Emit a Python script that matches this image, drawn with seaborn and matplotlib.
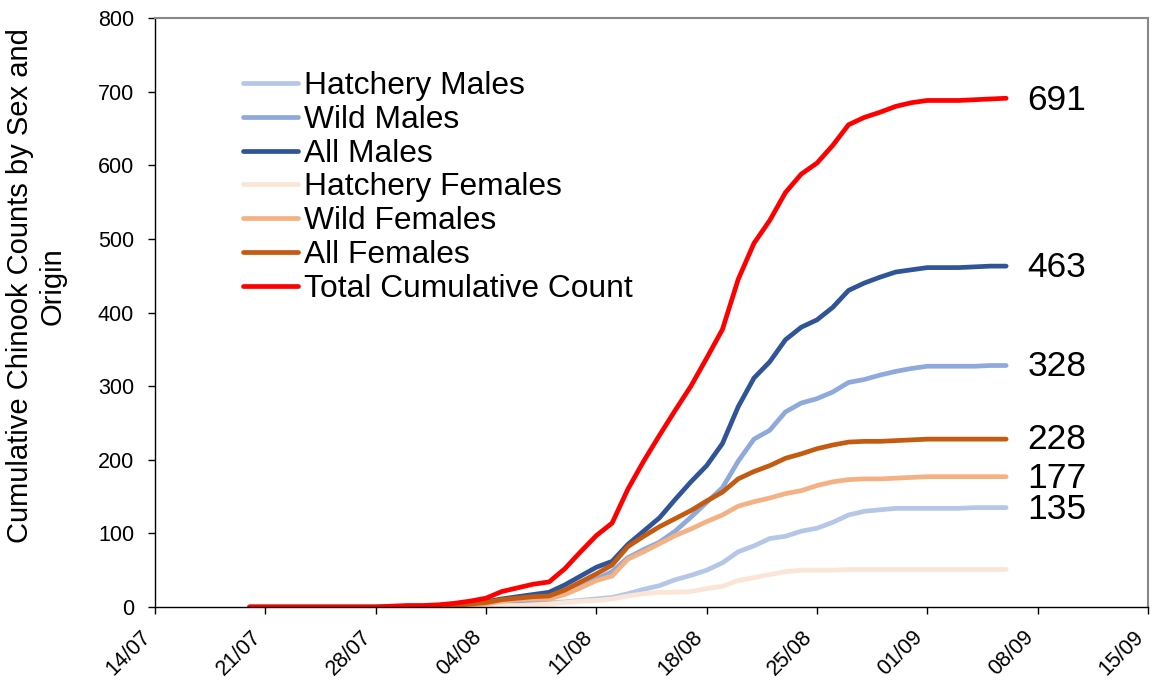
import pandas as pd
import numpy as np
import matplotlib
matplotlib.use("Agg")
import matplotlib.pyplot as plt
import matplotlib.dates as mdates
import seaborn as sns


dates = pd.date_range("2013-07-20", "2013-09-06", freq="D")

hatchery_males = [0] * 12 + [
    0, 0, 1, 2, 3, 4, 5, 6, 7, 9, 11, 13, 18, 24, 29, 37, 43, 50, 60, 75,
    83, 93, 96, 103, 107, 115, 125, 130, 132, 134, 134,
    134, 134, 134, 135, 135, 135]
wild_males = [0] * 10 + [1, 1] + [
    2, 3, 3, 4, 5, 7, 9, 11, 22, 30, 38, 48, 67, 78, 88, 103, 122, 142, 162, 198,
    228, 240, 265, 277, 283, 292, 305, 309, 315, 320, 324,
    327, 327, 327, 327, 328, 328]
all_males = [0] * 10 + [1, 1] + [
    2, 3, 4, 7, 11, 14, 17, 20, 30, 42, 54, 62, 85, 103, 121, 146, 170, 192, 222, 272,
    311, 333, 363, 380, 390, 407, 430, 440, 448, 455, 458,
    461, 461, 461, 462, 463, 463]
hatchery_females = [0] * 12 + [
    0, 0, 1, 1, 2, 2, 3, 4, 6, 8, 9, 11, 15, 18, 20, 20, 21, 25, 28, 36,
    40, 44, 48, 50, 50, 50, 51, 51, 51, 51, 51,
    51, 51, 51, 51, 51, 51]
wild_females = [0] * 9 + [1, 1, 1] + [
    1, 2, 3, 4, 8, 10, 11, 11, 17, 26, 36, 42, 65, 75, 86, 97, 106, 116, 125, 137,
    143, 148, 154, 158, 165, 170, 173, 174, 174, 175, 176,
    177, 177, 177, 177, 177, 177]
all_females = [0] * 9 + [1, 1, 1] + [
    1, 2, 4, 6, 10, 12, 14, 15, 23, 34, 45, 57, 82, 96, 109, 120, 131, 144, 156, 174,
    184, 192, 202, 208, 215, 220, 224, 225, 225, 226, 227,
    228, 228, 228, 228, 228, 228]
total = [0] * 9 + [1, 2, 2] + [
    3, 5, 8, 12, 21, 26, 31, 34, 52, 75, 97, 114, 160, 198, 233, 267, 300, 338, 377, 445,
    494, 525, 563, 588, 603, 627, 655, 665, 672, 680, 685,
    688, 688, 688, 689, 690, 691]

series_names = ["Hatchery Males", "Wild Males", "All Males", "Hatchery Females",
                "Wild Females", "All Females", "Total Cumulative Count"]
series_values = [hatchery_males, wild_males, all_males, hatchery_females,
                 wild_females, all_females, total]
colors = ["#B4C7E7", "#8EA9DB", "#2F5597", "#FBE5D6", "#F4B183", "#C55A11", "#FF0000"]

end_labels = ["691", "463", "328", "228", "177", "135"]
end_label_y = [688, 461, 326, 227, 175, 132]

frames = []
for name, vals in zip(series_names, series_values):
    frames.append(pd.DataFrame({"date": dates, "count": vals, "series": name}))
df = pd.concat(frames, ignore_index=True)

sns.set_style("white")
plt.rcParams["font.family"] = ["Liberation Sans", "DejaVu Sans"]
plt.rcParams["text.color"] = "black"
plt.rcParams["axes.labelcolor"] = "black"
plt.rcParams["xtick.color"] = "black"
plt.rcParams["ytick.color"] = "black"

fig = plt.figure(figsize=(11.54, 6.81), dpi=100)
ax = fig.add_axes([155 / 1154, 1 - 607 / 681, 993 / 1154, 589 / 681])

sns.lineplot(data=df, x="date", y="count", hue="series", hue_order=series_names,
             palette=colors, linewidth=3.4, ax=ax, legend=True,
             solid_capstyle="round")

# x axis: weekly ticks
ax.set_xlim(pd.Timestamp("2013-07-14"), pd.Timestamp("2013-09-15"))
ax.set_xticks(pd.date_range("2013-07-14", "2013-09-15", freq="7D"))
ax.xaxis.set_major_formatter(mdates.DateFormatter("%d/%m"))

ax.set_ylim(0, 800)
ax.set_yticks(np.arange(0, 801, 100))
ax.tick_params(axis="both", labelsize=15.5, direction="out", length=5, width=1,
               colors="black", bottom=True, left=True)
ax.tick_params(axis="y", pad=10)
ax.tick_params(axis="x", pad=9)
plt.setp(ax.get_xticklabels(), rotation=45, ha="right", va="top")

ax.set_xlabel("")
ax.set_ylabel("Cumulative Chinook Counts by Sex and\nOrigin", fontsize=21,
              multialignment="center")
ax.yaxis.set_label_coords(-0.089, 0.545)

for side in ["left", "bottom"]:
    ax.spines[side].set_color("black")
    ax.spines[side].set_linewidth(1)
for side in ["top", "right"]:
    ax.spines[side].set_color("#888888")
    ax.spines[side].set_linewidth(1.5)

# end labels
for txt, yv in zip(end_labels, end_label_y):
    ax.text(pd.Timestamp("2013-09-07 08:00"), yv, txt, fontsize=25.5,
            ha="left", va="center")

handles, labels = ax.get_legend_handles_labels()
leg = ax.legend(handles, labels, loc="upper left", bbox_to_anchor=(0.0886, 0.910),
                frameon=False, fontsize=22.9, handlelength=1.74, handletextpad=0.17,
                labelspacing=0.12, borderpad=0, borderaxespad=0)
for line in leg.get_lines():
    line.set_linewidth(3.4)

fig.savefig("out.png", dpi=100)
